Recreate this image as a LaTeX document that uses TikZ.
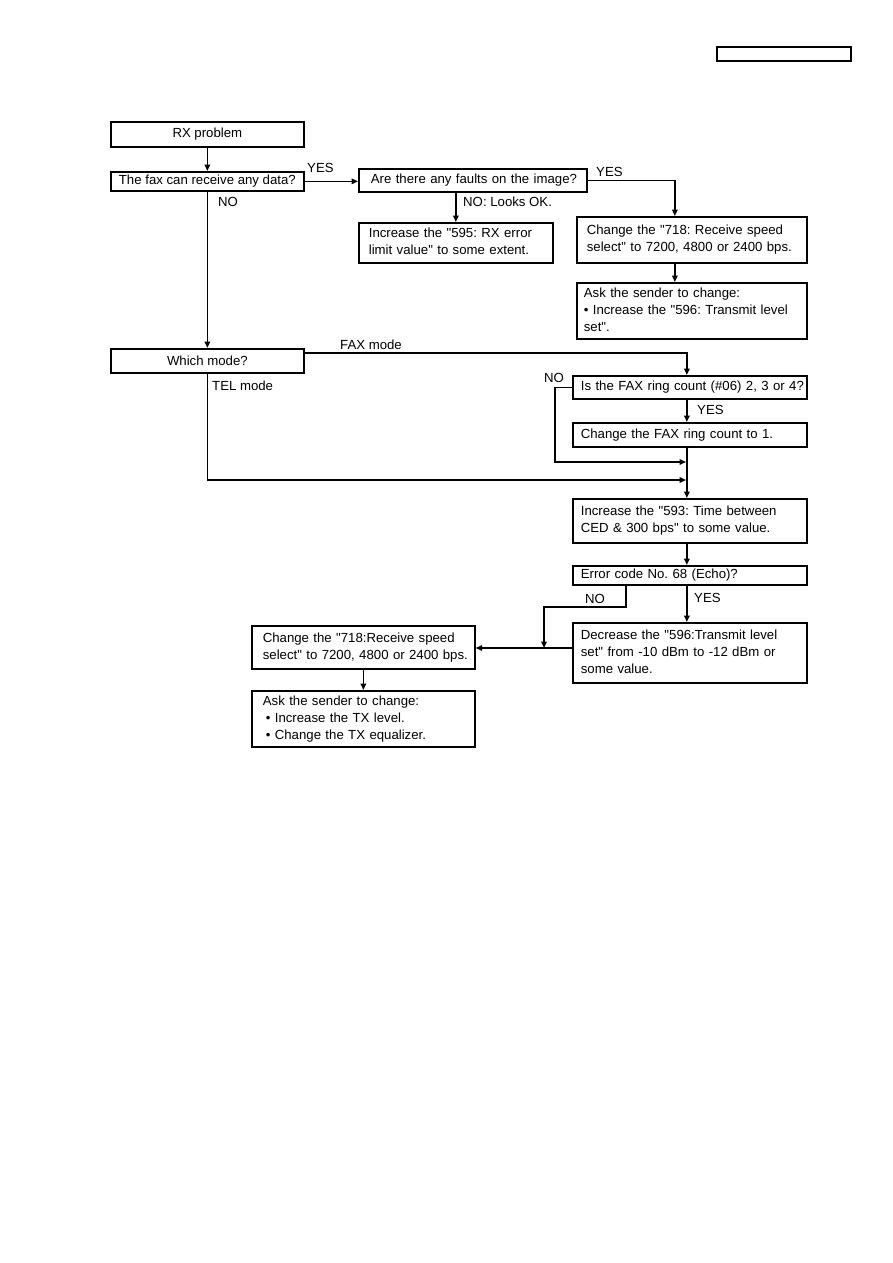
\documentclass[tikz,border=0pt]{standalone}
\usepackage{fontspec}
\setmainfont{Liberation Sans}[Ligatures=TeXOff]
\usetikzlibrary{arrows.meta}
\newcommand{\boxlines}[1]{\begin{tabular}{@{}l@{}}#1\end{tabular}}
\newcommand{\dq}{\symbol{34}}
\frenchspacing
\begin{document}
\begin{tikzpicture}[x=1pt,y=-1pt,
  font=\fontsize{13.2}{17}\selectfont\frenchspacing,
  box/.style={draw, line width=1.7pt, rectangle, anchor=north west, inner ysep=0pt, inner xsep=8pt, align=left},
  cbox/.style={draw, line width=1.7pt, rectangle, anchor=north west, inner sep=0pt, align=center},
  arr/.style={line width=1.6pt, -{Triangle[length=6.5pt,width=5.5pt]}},
  lbl/.style={inner sep=0pt, anchor=base west}]
\fill[white] (0,0) rectangle (893,1263);
\useasboundingbox (0,0) rectangle (893,1263);

\node[cbox, minimum width=134pt, minimum height=14pt] (hdr) at (716,46) {};

\node[cbox, minimum width=193pt, minimum height=25pt] (rx) at (110,121) {RX problem};
\node[cbox, minimum width=193pt, minimum height=19pt] (fax) at (110,171) {The fax can receive any data?};
\node[box, inner xsep=12pt, minimum width=228pt, minimum height=23pt, text width=204pt] (are) at (358,168) {\boxlines{Are there any faults on the image?}};
\node[box, inner xsep=10pt, minimum width=194pt, minimum height=40pt, text width=174pt] (inc595) at (358,222) {\boxlines{Increase the \dq595: RX error\\limit value\dq{} to some extent.}};
\node[box, inner xsep=10pt, minimum width=230pt, minimum height=46pt, text width=210pt] (ch718) at (576,216) {\boxlines{Change the \dq718: Receive speed\\select\dq{} to 7200, 4800 or 2400 bps.}};
\node[box, inner xsep=7pt, minimum width=230pt, minimum height=56pt, text width=216pt] (ask1) at (576,282) {\boxlines{Ask the sender to change:\\\textbullet{} Increase the \dq596: Transmit level\\set\dq.}};

\node[cbox, minimum width=193pt, minimum height=24pt] (which) at (110,348) {Which mode?};
\node[box, minimum width=234pt, minimum height=23pt, text width=218pt] (isfax) at (572,375) {\boxlines{Is the FAX ring count (\#06) 2, 3 or 4?}};
\node[box, minimum width=234pt, minimum height=24pt, text width=218pt] (chring) at (572,422) {\boxlines{Change the FAX ring count to 1.}};
\node[box, minimum width=234pt, minimum height=44pt, text width=218pt] (inc593) at (572,498) {\boxlines{Increase the \dq593: Time between\\CED \& 300 bps\dq{} to some value.}};
\node[box, minimum width=234pt, minimum height=19pt, text width=218pt] (err) at (572,565) {\boxlines{Error code No. 68 (Echo)?}};
\node[box, minimum width=234pt, minimum height=60pt, text width=218pt] (dec) at (572,622) {\boxlines{Decrease the \dq596:Transmit level\\set\dq{} from -10 dBm to -12 dBm or\\some value.}};
\node[box, inner xsep=11pt, minimum width=223pt, minimum height=43pt, text width=201pt] (ch718b) at (251,625) {\boxlines{Change the \dq718:Receive speed\\select\dq{} to 7200, 4800 or 2400 bps.}};
\node[box, inner xsep=11pt, minimum width=223pt, minimum height=56pt, text width=201pt] (ask2) at (251,690) {\boxlines{Ask the sender to change:\\\hspace{3pt}\textbullet{} Increase the TX level.\\\hspace{3pt}\textbullet{} Change the TX equalizer.}};

% labels
\node[lbl] (yes1) at (307,172) {YES};
\node[lbl] (yes2) at (596,176) {YES};
\node[lbl] (nolooks) at (463,206) {NO: Looks OK.};
\node[lbl] (no1) at (218,206) {NO};
\node[lbl] (faxmode) at (340,349) {FAX mode};
\node[lbl] (no2) at (544,382) {NO};
\node[lbl] (yes3) at (697,414) {YES};
\node[lbl] (telmode) at (212,390) {TEL mode};
\node[lbl] (no3) at (585,603) {NO};
\node[lbl] (yes4) at (694,602) {YES};

% junctions
\coordinate (j1) at (686,462);
\coordinate (j2) at (686,480);
\coordinate (j3) at (544,648);

% connectors
\draw[arr] (rx.south) -- (fax.north);
\draw[arr] (fax.east) -- (fax.east -| are.west);
\draw[arr] (are.east) -| ([xshift=-17pt]ch718.north);
\draw[arr] (are.south -| inc595.north) -- (inc595.north);
\draw[arr] ([xshift=-17pt]ch718.south) -- ([xshift=-17pt]ch718.south |- ask1.north);
\draw[arr] (fax.south) -- (which.north);
\draw[arr] ([yshift=-5pt]which.north east) -| ([xshift=-3pt]isfax.north);
\draw[arr] ([xshift=-3pt]isfax.south) -- ([xshift=-3pt]chring.north);
\draw[arr] (isfax.west) -- ++(-17,0) |- (j1);
\draw[arr] (which.south) |- (j2);
\draw[arr] ([xshift=-3pt]chring.south) -- ([xshift=-3pt]inc593.north);
\draw[arr] ([xshift=-3pt]inc593.south) -- ([xshift=-3pt]err.north);
\draw[arr] ([xshift=-3pt]err.south) -- ([xshift=-3pt]dec.north);
\draw[arr] ([xshift=54pt]err.south west) -- ++(0,21) -| (j3);
\draw[arr] (dec.west |- j3) -- (ch718b.east |- j3);
\draw[arr] (ch718b.south) -- (ask2.north);
\end{tikzpicture}
\end{document}
